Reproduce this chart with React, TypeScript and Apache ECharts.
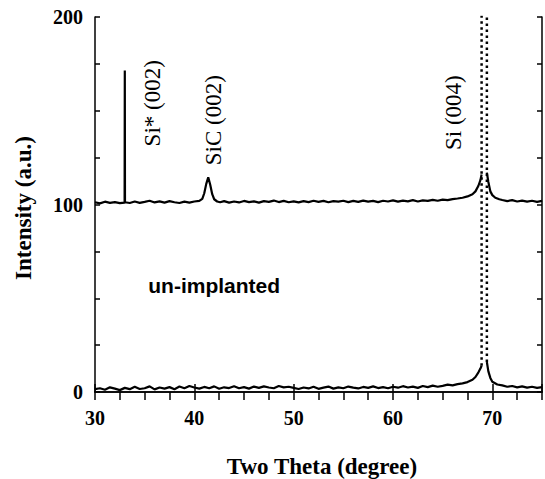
import React, { useEffect, useRef } from 'react';
import * as echarts from 'echarts';

// Two Theta (degree) tick labels and Intensity tick labels
const thetaLabels = [30, 40, 50, 60, 70];
const intensityLabels = [0, 100, 200];

// un-implanted sample (lower trace)
const unimplanted: any[] = [
  [30, 1.5], [30.5, 2.0], [31, 1.2], [31.5, 2.5], [32, 1.8], [32.5, 1.0], [33, 2.2], [33.5, 1.5],
  [34, 2.8], [34.5, 1.6], [35, 2.0], [35.5, 3.0], [36, 1.4], [36.5, 2.4], [37, 1.8], [37.5, 2.6],
  [38, 1.5], [38.5, 2.9], [39, 2.0], [39.5, 3.2], [40, 2.4], [40.5, 1.8], [41, 2.7], [41.5, 2.0],
  [42, 3.0], [42.5, 1.7], [43, 2.5], [43.5, 2.1], [44, 3.1], [44.5, 2.0], [45, 2.6], [45.5, 1.8],
  [46, 2.9], [46.5, 2.2], [47, 3.0], [47.5, 2.4], [48, 2.0], [48.5, 3.2], [49, 2.5], [49.5, 2.8],
  [50, 2.2], [50.5, 1.6], [51, 2.4], [51.5, 1.9], [52, 2.8], [52.5, 1.7], [53, 2.3], [53.5, 2.9],
  [54, 1.8], [54.5, 2.5], [55, 2.0], [55.5, 2.9], [56, 2.3], [56.5, 1.9], [57, 2.7], [57.5, 2.2],
  [58, 3.0], [58.5, 2.1], [59, 2.6], [59.5, 2.0], [60, 2.8], [60.5, 2.3], [61, 3.1], [61.5, 2.4],
  [62, 2.9], [62.5, 2.2], [63, 3.2], [63.5, 2.6], [64, 3.4], [64.5, 2.8], [65, 3.3], [65.5, 3.9],
  [66, 3.5], [66.5, 4.2], [67, 4.6], [67.5, 5.3], [68, 6.5], [68.3, 8.0], [68.6, 10.5], [68.8, 12.5],
  [68.92, 14], [69.2, '-'], [69.45, 16], [69.6, 11], [69.8, 7.5], [70, 5.5], [70.5, 4.0], [71, 3.5],
  [71.5, 2.8], [72, 3.2], [72.5, 2.5], [73, 3.0], [73.5, 2.3], [74, 2.8], [74.5, 2.2], [75, 2.6],
];

// implanted sample (upper trace, offset by 100)
const implanted: any[] = [
  [30, 101.2], [30.5, 100.6], [31, 101.5], [31.5, 100.9], [32, 101.3], [32.5, 100.7], [32.98, 101.0],
  [33.0, 171.5], [33.02, 101.2], [33.5, 100.8], [34, 101.6], [34.5, 100.9], [35, 101.4], [35.5, 102.0],
  [36, 101.1], [36.5, 101.7], [37, 101.0], [37.5, 101.8], [38, 101.2], [38.5, 100.8], [39, 101.5],
  [39.5, 101.0], [40, 101.6], [40.5, 101.9], [40.8, 103.0], [41.0, 106.0], [41.2, 111.0], [41.4, 114.5],
  [41.6, 110.5], [41.8, 105.5], [42.0, 102.8], [42.3, 101.6], [42.6, 101.2], [43, 101.8], [43.5, 101.0],
  [44, 101.6], [44.5, 101.1], [45, 101.9], [45.5, 101.3], [46, 101.7], [46.5, 101.0], [47, 101.8],
  [47.5, 101.4], [48, 102.1], [48.5, 101.3], [49, 101.9], [49.5, 101.2], [50, 101.7], [50.5, 101.1],
  [51, 101.8], [51.5, 101.3], [52, 102.0], [52.5, 101.4], [53, 101.9], [53.5, 101.2], [54, 101.8],
  [54.5, 101.5], [55, 102.0], [55.5, 101.3], [56, 101.9], [56.5, 101.4], [57, 102.1], [57.5, 101.5],
  [58, 101.9], [58.5, 101.3], [59, 102.0], [59.5, 101.6], [60, 102.2], [60.5, 101.5], [61, 102.1],
  [61.5, 101.7], [62, 102.3], [62.5, 101.6], [63, 102.2], [63.5, 101.9], [64, 102.5], [64.5, 102.0],
  [65, 102.6], [65.5, 102.3], [66, 102.9], [66.5, 103.2], [67, 103.6], [67.5, 104.3], [68, 105.5],
  [68.3, 107], [68.6, 110], [68.8, 113], [68.92, 116], [69.2, '-'], [69.45, 117], [69.6, 112],
  [69.8, 107], [70.0, 105], [70.3, 103.6], [70.7, 102.8], [71, 102.4], [71.5, 101.8], [72, 102.3],
  [72.5, 101.6], [73, 102.1], [73.5, 101.5], [74, 102.0], [74.5, 101.4], [75, 101.9],
];

// Si (004) peak flanks, beyond the scale (drawn dotted)
const peakFlankLeft = [[68.92, 14], [68.92, 260]];
const peakFlankRight = [[69.45, 16], [69.45, 260]];

// annotations in data coordinates
const annotations = [
  { text: 'Si* (002)', theta: 35.75, intensity: 154, rotate: true },
  { text: 'SiC (002)', theta: 41.9, intensity: 145, rotate: true },
  { text: 'Si (004)', theta: 66.1, intensity: 149, rotate: true },
  { text: 'un-implanted', theta: 42.0, intensity: 57, rotate: false },
];

const SERIF = '"Liberation Serif", "Times New Roman", serif';
const SANS = '"Liberation Sans", Arial, sans-serif';

export default function App() {
  const ref = useRef<HTMLDivElement>(null);
  useEffect(() => {
    if (!ref.current) return;
    const chart = echarts.init(ref.current, null, { renderer: 'svg' });
    const lineCommon = { type: 'line', showSymbol: false, symbol: 'none', silent: true, clip: true };
    const axisLine = { show: true, lineStyle: { color: '#000', width: 1.5 } };
    const option: any = {
      animation: false,
      backgroundColor: '#fff',
      grid: { left: 95, top: 17, width: 454.5, height: 375, containLabel: false },
      xAxis: [
        {
          type: 'value', position: 'bottom', min: 30, max: 75, interval: 10,
          axisLine, splitLine: { show: false },
          axisTick: { show: true, inside: true, length: 8, lineStyle: { color: '#000', width: 1.5 } },
          axisLabel: {
            margin: 16, color: '#000', fontFamily: SERIF, fontWeight: 'bold', fontSize: 20,
            formatter: (v: number) => (thetaLabels.includes(v) ? String(v) : ''),
          },
        },
        {
          type: 'value', position: 'top', min: 30, max: 75, interval: 2.5,
          axisLine, splitLine: { show: false },
          axisTick: { show: true, inside: true, length: 8, lineStyle: { color: '#000', width: 1.5 } },
          axisLabel: { show: false },
        },
      ],
      yAxis: [
        {
          type: 'value', position: 'left', min: 0, max: 200, interval: 25,
          axisLine, splitLine: { show: false },
          axisTick: { show: true, inside: true, length: 5, lineStyle: { color: '#000', width: 1.5 } },
          axisLabel: {
            margin: 12, color: '#000', fontFamily: SERIF, fontWeight: 'bold', fontSize: 20,
            formatter: (v: number) => (intensityLabels.includes(v) ? String(v) : ''),
          },
        },
        {
          type: 'value', position: 'right', min: 0, max: 200, interval: 25,
          axisLine, splitLine: { show: false },
          axisTick: { show: true, inside: true, length: 5, lineStyle: { color: '#000', width: 1.5 } },
          axisLabel: { show: false },
        },
      ],
      series: [
        { ...lineCommon, name: 'un-implanted', data: unimplanted, lineStyle: { color: '#000', width: 2.2 }, connectNulls: false },
        { ...lineCommon, name: 'implanted', data: implanted, lineStyle: { color: '#000', width: 2.2 }, connectNulls: false },
        { ...lineCommon, name: 'flankL', data: peakFlankLeft, lineStyle: { color: '#000', width: 2.5, type: [2.5, 3.5] } },
        { ...lineCommon, name: 'flankR', data: peakFlankRight, lineStyle: { color: '#000', width: 2.5, type: [2.5, 3.5] } },
      ],
    };
    chart.setOption(option);

    const graphics: any[] = annotations.map((a) => {
      const [px, py] = chart.convertToPixel({ seriesIndex: 0 }, [a.theta, a.intensity]) as number[];
      return {
        type: 'text', x: px, y: py, rotation: a.rotate ? Math.PI / 2 : 0, silent: true,
        style: {
          text: a.text, fill: '#000',
          font: a.rotate ? `23px ${SERIF}` : `bold 21px ${SANS}`,
          align: 'center', verticalAlign: 'middle', textAlign: 'center', textVerticalAlign: 'middle',
        },
      };
    });
    graphics.push({
      type: 'text', x: 322, y: 466, silent: true,
      style: { text: 'Two Theta (degree)', fill: '#000', font: `bold 23px ${SERIF}`, align: 'center', verticalAlign: 'middle', textAlign: 'center', textVerticalAlign: 'middle' },
    });
    graphics.push({
      type: 'text', x: 23, y: 208, rotation: Math.PI / 2, silent: true,
      style: { text: 'Intensity (a.u.)', fill: '#000', font: `bold 23px ${SERIF}`, align: 'center', verticalAlign: 'middle', textAlign: 'center', textVerticalAlign: 'middle' },
    });
    chart.setOption({ graphic: graphics });

    return () => chart.dispose();
  }, []);
  return <div ref={ref} style={{ position: 'fixed', left: 0, top: 0, width: 545, height: 479 }} />;
}
